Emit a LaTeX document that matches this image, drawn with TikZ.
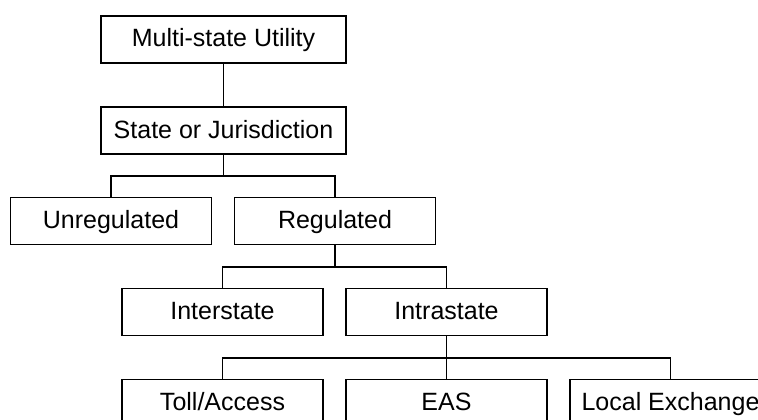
\documentclass[tikz,border=0pt]{standalone}
\usepackage{fontspec}
\setmainfont{Liberation Sans}
\begin{document}
\begin{tikzpicture}[x=1pt,y=-1pt,
  box/.style={draw=black,line width=1.8pt,rectangle,minimum height=47pt,inner sep=0pt,
    text height=18pt,text depth=3pt,
    font=\fontsize{25}{29}\selectfont,text=black},
  wide/.style={box,minimum width=245pt},
  narrow/.style={box,minimum width=201pt},
  link/.style={draw=black,line width=1.8pt}]
\useasboundingbox (0,0) rectangle (758,420);
\clip (0,0) rectangle (758,420);
\node[wide] (top) at (223.5,39.5) {Multi-state Utility};
\node[wide] (state) at (223.5,130.5) {State or Jurisdiction};
\node[narrow] (unreg) at (111,221) {Unregulated};
\node[narrow] (reg) at (335,221) {Regulated};
\node[narrow] (inter) at (222.5,312) {Interstate};
\node[narrow] (intra) at (446.5,312) {Intrastate};
\node[narrow] (toll) at (222.5,403) {Toll/Access};
\node[narrow] (eas) at (446.5,403) {EAS};
\node[narrow] (local) at (670.5,403) {Local Exchange};
\coordinate (b1) at (0,176);
\coordinate (b2) at (0,267);
\coordinate (b3) at (0,358);
\draw[link] (top.south) -- (state.north);
\draw[link] (state.south) -- (state.south |- b1);
\draw[link] (unreg.north) |- (b1 -| reg.north) -- (reg.north);
\draw[link] (reg.south) -- (reg.south |- b2);
\draw[link] (inter.north) |- (b2 -| intra.north) -- (intra.north);
\draw[link] (intra.south) -- (eas.north);
\draw[link] (toll.north) |- (b3 -| local.north) -- (local.north);
\end{tikzpicture}
\end{document}
